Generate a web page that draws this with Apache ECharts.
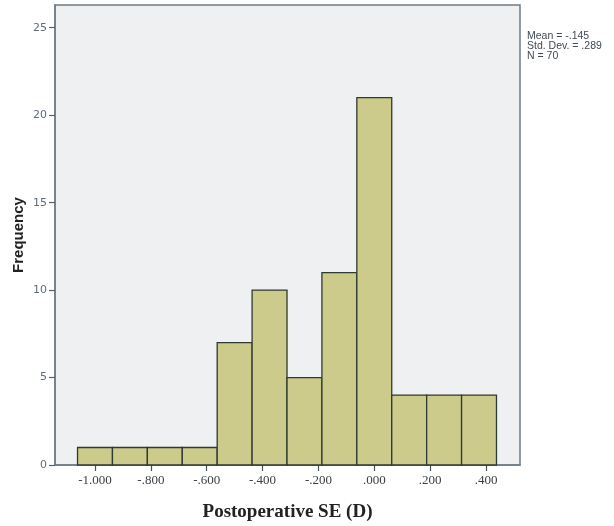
<!DOCTYPE html>
<html>
<head>
<meta charset="utf-8">
<script src="https://cdn.jsdelivr.net/npm/echarts@6/dist/echarts.min.js"></script>
<style>html,body{margin:0;padding:0;background:#fff;}#c{width:614px;height:526px;}</style>
</head>
<body>
<div id="c"></div>
<script>
var binCenters = [-1.0, -0.875, -0.75, -0.625, -0.5, -0.375, -0.25, -0.125, 0.0, 0.125, 0.25, 0.375];
var counts = [1, 1, 1, 1, 7, 10, 5, 11, 21, 4, 4, 4];
var binWidth = 0.125;
var xTickValues = [-1.0, -0.8, -0.6, -0.4, -0.2, 0.0, 0.2, 0.4];
var xTickLabels = ['-1.000', '-.800', '-.600', '-.400', '-.200', '.000', '.200', '.400'];
var yTickValues = [0, 5, 10, 15, 20, 25];
var statsLines = ['Mean = -.145', 'Std. Dev. = .289', 'N = 70'];

var chart = echarts.init(document.getElementById('c'));
var data = binCenters.map(function (c, i) { return [c, counts[i]]; });

chart.setOption({
  animation: false,
  backgroundColor: '#ffffff',
  grid: {
    left: 55, top: 5, right: 94, bottom: 61,
    containLabel: false, outerBoundsMode: 'none',
    show: true, backgroundColor: '#eef0f1', borderColor: '#6e7c88', borderWidth: 1.5
  },
  xAxis: {
    type: 'value', min: -1.1432, max: 0.5217,
    splitLine: { show: false },
    axisLine: { show: true, onZero: false, lineStyle: { color: '#6e7c88', width: 1.5 } },
    axisTick: { show: true, length: 6, customValues: xTickValues, lineStyle: { color: '#44505a', width: 1.2 } },
    axisLabel: {
      customValues: xTickValues,
      formatter: function (v) {
        var idx = xTickValues.findIndex(function (t) { return Math.abs(t - v) < 1e-6; });
        return idx >= 0 ? xTickLabels[idx] : '';
      },
      fontFamily: 'Liberation Serif', fontSize: 13, color: '#3a3f44', margin: 9
    },
    name: 'Postoperative SE (D)', nameLocation: 'middle', nameGap: 38, nameMoveOverlap: false,
    nameTextStyle: { fontFamily: 'Liberation Serif', fontWeight: 'bold', fontSize: 19, color: '#222' }
  },
  yAxis: {
    type: 'value', min: 0, max: 26.3,
    splitLine: { show: false },
    axisLine: { show: true, onZero: false, lineStyle: { color: '#6e7c88', width: 1.5 } },
    axisTick: { show: true, length: 6, customValues: yTickValues, lineStyle: { color: '#55626d', width: 1.2 } },
    axisLabel: {
      customValues: yTickValues,
      fontFamily: 'DejaVu Sans', fontSize: 11, color: '#5d6c7a', margin: 8
    },
    name: 'Frequency', nameLocation: 'middle', nameGap: 29, nameRotate: 90, nameMoveOverlap: false,
    nameTextStyle: { fontFamily: 'Liberation Sans', fontWeight: 'bold', fontSize: 15, color: '#222' }
  },
  series: [{
    type: 'custom',
    data: data,
    renderItem: function (params, api) {
      var c = api.value(0), n = api.value(1);
      var p1 = api.coord([c - binWidth / 2, n]);
      var p2 = api.coord([c + binWidth / 2, 0]);
      return {
        type: 'rect',
        shape: { x: p1[0], y: p1[1], width: p2[0] - p1[0], height: p2[1] - p1[1] },
        style: { fill: '#cccb8b', stroke: '#2e3a30', lineWidth: 1.3 }
      };
    }
  }],
  graphic: [{
    type: 'text', left: 527, top: 31,
    style: { text: statsLines.join('\n'), fontFamily: 'Liberation Sans', fontSize: 10.5, lineHeight: 10, fill: '#3f4a55' }
  }]
});
</script>
</body>
</html>
